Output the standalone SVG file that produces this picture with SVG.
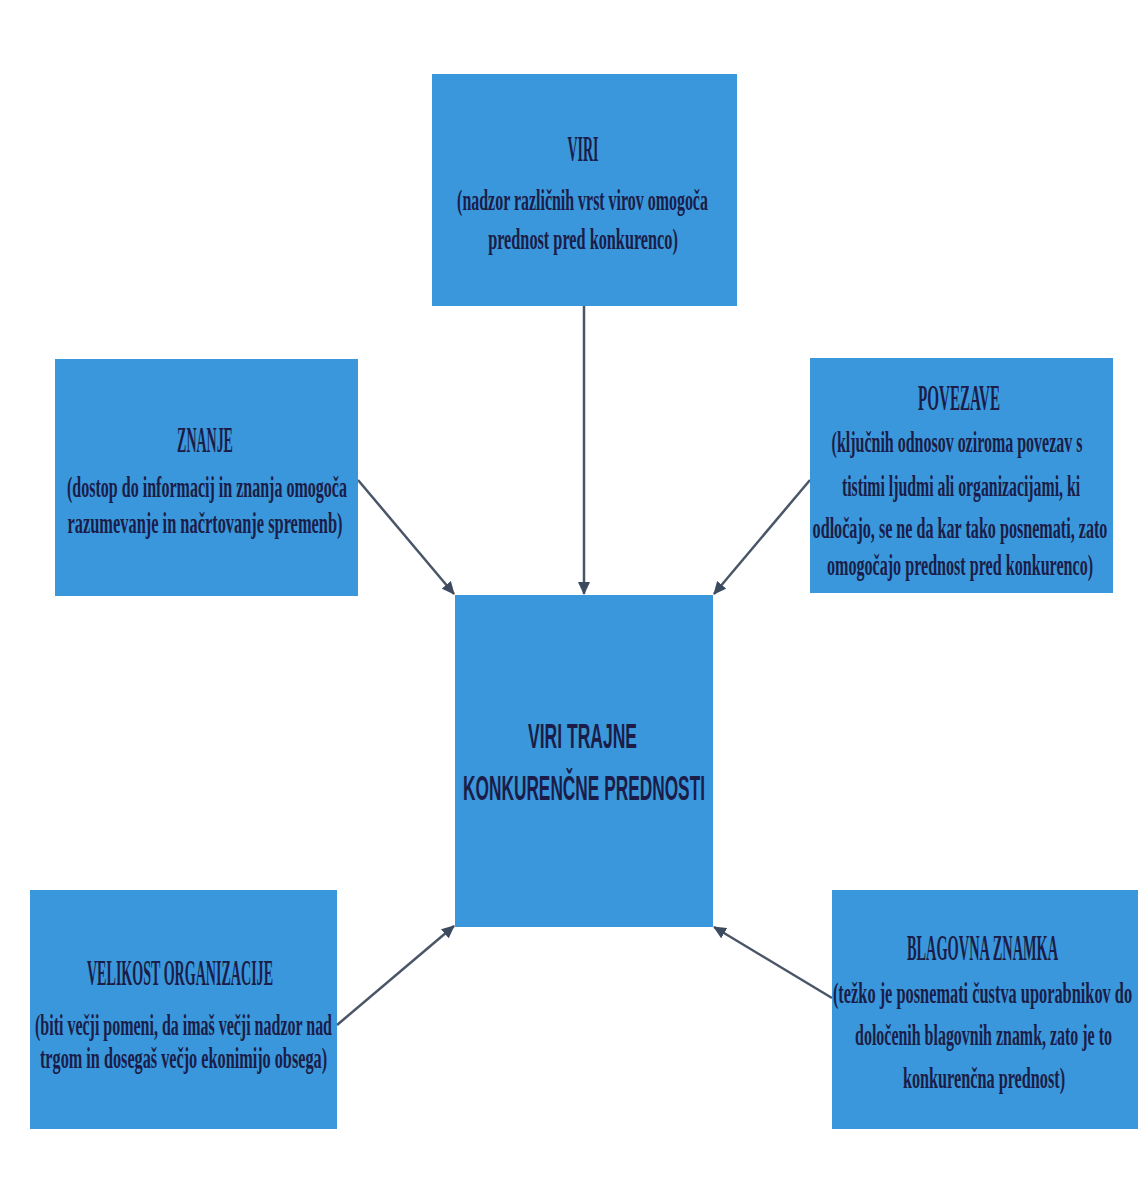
<svg xmlns="http://www.w3.org/2000/svg" width="1144" height="1179" viewBox="0 0 1144 1179">
<style>
.box{fill:#3a97db;}
.t{font-family:"Liberation Serif","DejaVu Serif",serif;font-weight:bold;fill:#1b1d48;text-anchor:middle;font-size:36px;}
.b{font-family:"Liberation Serif","DejaVu Serif",serif;fill:#1b1d48;text-anchor:middle;font-size:30px;font-weight:bold;}
.c{font-family:"Liberation Sans","DejaVu Sans",sans-serif;font-weight:bold;fill:#1b1d48;text-anchor:middle;font-size:35px;}
.ln{stroke:#4a5668;stroke-width:2.5;fill:none;marker-end:url(#ah);}
</style>
<defs>
<marker id="ah" markerUnits="userSpaceOnUse" markerWidth="14" markerHeight="12" refX="12" refY="6" orient="auto">
<path d="M0,0 L13,6 L0,12 Z" fill="#3c4a60"/>
</marker>
</defs>
<rect width="1144" height="1179" fill="#ffffff"/>
<g id="connectors">
<line class="ln" x1="584" y1="306" x2="584" y2="594"/>
<line class="ln" x1="358" y1="480" x2="454" y2="594"/>
<line class="ln" x1="810" y1="480" x2="714" y2="594"/>
<line class="ln" x1="337" y1="1025" x2="454" y2="926"/>
<line class="ln" x1="832" y1="998" x2="714" y2="927"/>
</g>
<g id="viri">
<rect class="box" x="432" y="74" width="305" height="232"/>
<text class="t" transform="translate(583,161) scale(0.42,1)" textLength="74" lengthAdjust="spacingAndGlyphs">VIRI</text>
<text class="b" transform="translate(582.5,210) scale(0.55,1)" textLength="456" lengthAdjust="spacingAndGlyphs">(nadzor različnih vrst virov omogoča</text>
<text class="b" transform="translate(583,249) scale(0.55,1)" textLength="345" lengthAdjust="spacingAndGlyphs">prednost pred konkurenco)</text>
</g>
<g id="znanje">
<rect class="box" x="55" y="359" width="303" height="237"/>
<text class="t" transform="translate(205,452) scale(0.42,1)" textLength="133" lengthAdjust="spacingAndGlyphs">ZNANJE</text>
<text class="b" transform="translate(207,497) scale(0.55,1)" textLength="509" lengthAdjust="spacingAndGlyphs">(dostop do informacij in znanja omogoča</text>
<text class="b" transform="translate(205,533) scale(0.55,1)" textLength="500" lengthAdjust="spacingAndGlyphs">razumevanje in načrtovanje spremenb)</text>
</g>
<g id="povezave">
<rect class="box" x="810" y="358" width="303" height="235"/>
<text class="t" transform="translate(959,410) scale(0.42,1)" textLength="195" lengthAdjust="spacingAndGlyphs">POVEZAVE</text>
<text class="b" transform="translate(957,452) scale(0.55,1)" textLength="456" lengthAdjust="spacingAndGlyphs">(ključnih odnosov oziroma povezav s</text>
<text class="b" transform="translate(961,496) scale(0.55,1)" textLength="433" lengthAdjust="spacingAndGlyphs">tistimi ljudmi ali organizacijami, ki</text>
<text class="b" transform="translate(960,538) scale(0.55,1)" textLength="536" lengthAdjust="spacingAndGlyphs">odločajo, se ne da kar tako posnemati, zato</text>
<text class="b" transform="translate(960,575) scale(0.55,1)" textLength="484" lengthAdjust="spacingAndGlyphs">omogočajo prednost pred konkurenco)</text>
</g>
<g id="center">
<rect class="box" x="455" y="595" width="258" height="332"/>
<text class="c" transform="translate(582.5,748) scale(0.5,1)" textLength="218" lengthAdjust="spacingAndGlyphs">VIRI TRAJNE</text>
<text class="c" transform="translate(584,800) scale(0.5,1)" textLength="484" lengthAdjust="spacingAndGlyphs">KONKURENČNE PREDNOSTI</text>
</g>
<g id="velikost">
<rect class="box" x="30" y="890" width="307" height="239"/>
<text class="t" transform="translate(180,985) scale(0.42,1)" textLength="443" lengthAdjust="spacingAndGlyphs">VELIKOST ORGANIZACIJE</text>
<text class="b" transform="translate(183.5,1035) scale(0.55,1)" textLength="540" lengthAdjust="spacingAndGlyphs">(biti večji pomeni, da imaš večji nadzor nad</text>
<text class="b" transform="translate(183.5,1068) scale(0.55,1)" textLength="522" lengthAdjust="spacingAndGlyphs">trgom in dosegaš večjo ekonimijo obsega)</text>
</g>
<g id="blagovna">
<rect class="box" x="832" y="890" width="306" height="239"/>
<text class="t" transform="translate(982.5,960) scale(0.42,1)" textLength="360" lengthAdjust="spacingAndGlyphs">BLAGOVNA ZNAMKA</text>
<text class="b" transform="translate(982.5,1003) scale(0.55,1)" textLength="544" lengthAdjust="spacingAndGlyphs">(težko je posnemati čustva uporabnikov do</text>
<text class="b" transform="translate(983.5,1045) scale(0.55,1)" textLength="467" lengthAdjust="spacingAndGlyphs">določenih blagovnih znamk, zato je to</text>
<text class="b" transform="translate(984,1088) scale(0.55,1)" textLength="295" lengthAdjust="spacingAndGlyphs">konkurenčna prednost)</text>
</g>
</svg>
